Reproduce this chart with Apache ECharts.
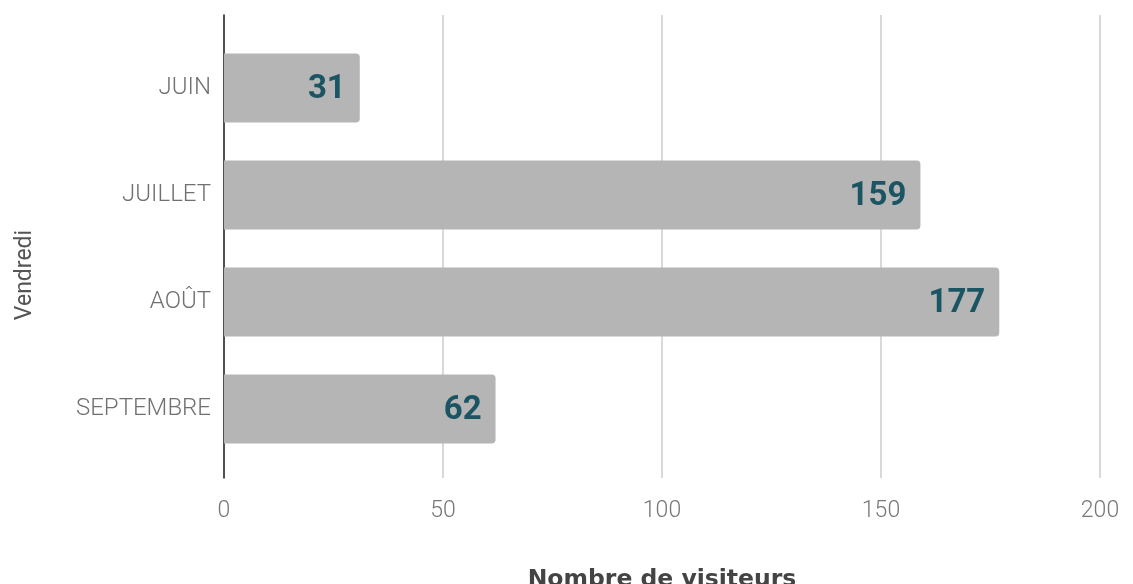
<!DOCTYPE html>
<html>
<head>
<meta charset="utf-8">
<script src="https://cdn.jsdelivr.net/npm/echarts@6/dist/echarts.min.js"></script>
<style>
  html, body { margin: 0; padding: 0; background: #fff; }
  #chart { width: 1133px; height: 584px; }
</style>
</head>
<body>
<div id="chart"></div>
<script>
// Monthly visitor counts on Fridays
const months = ['JUIN', 'JUILLET', 'AOÛT', 'SEPTEMBRE'];
const visitors = [31, 159, 177, 62];
const xTicks = [0, 50, 100, 150, 200];

const chart = echarts.init(document.getElementById('chart'));

const xMin = xTicks[0];
const xMax = xTicks[xTicks.length - 1];
const xStep = xTicks[1] - xTicks[0];

chart.setOption({
  backgroundColor: '#ffffff',
  animation: false,
  grid: [
    // panel: gridlines, axis line and tick labels
    { left: 224, right: 33, top: 15, bottom: 106, outerBoundsMode: 'none', containLabel: false },
    // bars
    { left: 224, right: 33, top: 34.5, bottom: 121.5, outerBoundsMode: 'none', containLabel: false }
  ],
  xAxis: [
    {
      gridIndex: 0, type: 'value', min: xMin, max: xMax, interval: xStep,
      axisLine: { show: false }, axisTick: { show: false },
      splitLine: { show: true, lineStyle: { color: '#cccccc', width: 1.5 } },
      axisLabel: { color: '#777777', fontSize: 23, fontFamily: 'Roboto', fontWeight: 300, margin: 22 },
      name: 'Nombre de visiteurs', nameLocation: 'middle', nameGap: 90,
      nameTextStyle: { color: '#444444', fontSize: 23.5, fontWeight: 'bold', fontFamily: 'DejaVu Sans' }
    },
    {
      gridIndex: 1, type: 'value', min: xMin, max: xMax, interval: xStep,
      show: false
    }
  ],
  yAxis: [
    {
      gridIndex: 0, type: 'value', min: 0, max: 1,
      axisLine: { show: true, onZero: false, lineStyle: { color: '#222222', width: 1.5 } },
      axisTick: { show: false }, axisLabel: { show: false }, splitLine: { show: false }
    },
    {
      gridIndex: 1, type: 'category', data: months, inverse: true,
      axisLine: { show: false }, axisTick: { show: false }, splitLine: { show: false },
      axisLabel: { color: '#707070', fontSize: 24, fontFamily: 'Roboto', fontWeight: 300, margin: 13, lineHeight: 30, padding: [6, 0, 0, 0] }
    }
  ],
  graphic: [{
    type: 'text',
    x: 25, y: 275,
    rotation: Math.PI / 2,
    style: {
      text: 'Vendredi', fill: '#555555',
      font: '400 23px Roboto',
      align: 'center', verticalAlign: 'middle'
    }
  }],
  series: [{
    type: 'bar',
    xAxisIndex: 1, yAxisIndex: 1,
    data: visitors,
    barWidth: 69,
    itemStyle: { color: '#b5b5b5', borderRadius: [0, 4, 4, 0] },
    label: {
      show: true, position: 'insideRight', distance: 14, offset: [0, 2],
      color: '#1b5563', fontSize: 33, fontWeight: 'bold', fontFamily: 'Roboto'
    }
  }]
});
</script>
</body>
</html>
